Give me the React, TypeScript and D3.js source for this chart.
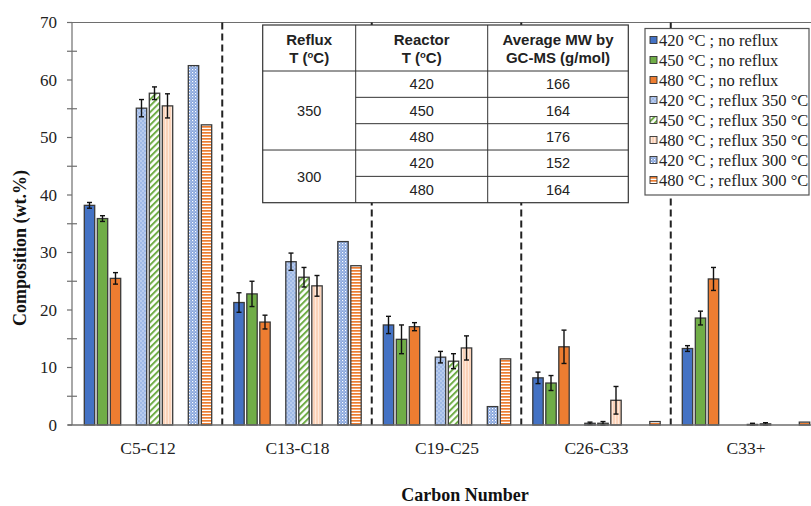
import * as d3 from "d3";
import React, { useEffect, useRef } from "react";

// ---- data ----
const categories = ["C5-C12", "C13-C18", "C19-C25", "C26-C33", "C33+"];

const seriesNames = [
  "420 °C ; no reflux",
  "450 °C ; no reflux",
  "480 °C ; no reflux",
  "420 °C ; reflux 350 °C",
  "450 °C ; reflux 350 °C",
  "480 °C ; reflux 350 °C",
  "420 °C ; reflux 300 °C",
  "480 °C ; reflux 300 °C",
];

const v420 = [38.2, 21.3, 17.4, 8.2, 13.3];
const v450 = [35.9, 22.8, 14.9, 7.3, 18.6];
const v480 = [25.5, 17.9, 17.1, 13.6, 25.4];
const v420r350 = [55.1, 28.4, 11.8, 0.3, 0.0];
const v450r350 = [57.7, 25.7, 11.1, 0.3, 0.1];
const v480r350 = [55.5, 24.2, 13.4, 4.3, 0.2];
const v420r300 = [62.5, 31.9, 3.2, 0.0, 0.0];
const v480r300 = [52.2, 27.7, 11.5, 0.6, 0.5];

const e420 = [0.5, 1.7, 1.5, 1.0, 0.5];
const e450 = [0.5, 2.2, 2.5, 1.3, 1.2];
const e480 = [1.0, 1.2, 0.7, 2.9, 2.0];
const e420r350 = [1.5, 1.5, 1.0, 0.2, 0];
const e450r350 = [1.1, 1.7, 1.3, 0.3, 0.2];
const e480r350 = [2.1, 1.8, 2.1, 2.4, 0.2];

const seriesValues = [v420, v450, v480, v420r350, v450r350, v480r350, v420r300, v480r300];
const seriesErrors = [e420, e450, e480, e420r350, e450r350, e480r350, null, null];
// Excel slot of each series (slots 3 and 7 are empty spacer series)
const seriesSlot = [0, 1, 2, 4, 5, 6, 8, 9];

const yTicks = [0, 10, 20, 30, 40, 50, 60, 70];

// inset table
const tableHeader = [["Reflux", "T (", "o", "C)"], ["Reactor", "T (", "o", "C)"], ["Average MW by", "GC-MS (g/mol)"]];
const refluxT = ["350", "300"];
const reactorT = ["420", "450", "480", "420", "480"];
const avgMW = ["166", "164", "176", "152", "164"];

const serif = "'Liberation Serif', 'Times New Roman', serif";
const sans = "'Liberation Sans', Arial, sans-serif";

const fills = [
  "#4472C4",
  "#70AD47",
  "#ED7D31",
  "url(#pLightBlue)",
  "url(#pGreenHatch)",
  "url(#pPeach)",
  "url(#pBlueDots)",
  "url(#pOrangeStripes)",
];

const App: React.FC = () => {
  const svgRef = useRef<SVGSVGElement | null>(null);

  useEffect(() => {
    if (!svgRef.current) return;
    const svg = d3.select(svgRef.current);
    svg.selectAll("*").remove();

    const width = 811;
    const height = 506;
    const plot = { left: 72, right: 811, top: 22.5, bottom: 425 };

    const x0 = d3.scaleBand<string>().domain(categories).range([73.25, 820.75]);
    const x1 = d3
      .scaleBand<number>()
      .domain(d3.range(10))
      .range([0, x0.bandwidth()])
      .paddingInner(0.2)
      .paddingOuter(0.85);
    const y = d3.scaleLinear().domain([0, 70]).range([plot.bottom, plot.top]);

    // patterns
    const defs = svg.append("defs");
    const lb = defs.append("pattern").attr("id", "pLightBlue").attr("patternUnits", "userSpaceOnUse").attr("width", 4).attr("height", 4);
    lb.append("rect").attr("width", 4).attr("height", 4).attr("fill", "#9fb9e6");
    lb.append("rect").attr("width", 2).attr("height", 2).attr("fill", "#b8cbee");
    lb.append("rect").attr("x", 2).attr("y", 2).attr("width", 2).attr("height", 2).attr("fill", "#b8cbee");

    const gh = defs.append("pattern").attr("id", "pGreenHatch").attr("patternUnits", "userSpaceOnUse").attr("width", 4.5).attr("height", 4.5).attr("patternTransform", "rotate(45)");
    gh.append("rect").attr("width", 4.5).attr("height", 4.5).attr("fill", "#ffffff");
    gh.append("rect").attr("width", 2).attr("height", 4.5).attr("fill", "#70AD47");

    const pe = defs.append("pattern").attr("id", "pPeach").attr("patternUnits", "userSpaceOnUse").attr("width", 3).attr("height", 3);
    pe.append("rect").attr("width", 3).attr("height", 3).attr("fill", "#fbd3ba");
    pe.append("rect").attr("width", 1).attr("height", 3).attr("fill", "#fde9dc");

    const bd = defs.append("pattern").attr("id", "pBlueDots").attr("patternUnits", "userSpaceOnUse").attr("width", 3).attr("height", 3);
    bd.append("rect").attr("width", 3).attr("height", 3).attr("fill", "#85a4dc");
    bd.append("rect").attr("width", 1.2).attr("height", 1.2).attr("fill", "#ffffff");
    bd.append("rect").attr("x", 1.5).attr("y", 1.5).attr("width", 1).attr("height", 1).attr("fill", "#e6edf9");

    const os = defs.append("pattern").attr("id", "pOrangeStripes").attr("patternUnits", "userSpaceOnUse").attr("width", 4).attr("height", 3);
    os.append("rect").attr("width", 4).attr("height", 3).attr("fill", "#ffffff");
    os.append("rect").attr("width", 4).attr("height", 1.7).attr("fill", "#ED7D31");

    svg.append("rect").attr("width", width).attr("height", height).attr("fill", "#ffffff");

    // top border
    svg
      .append("line")
      .attr("x1", plot.left)
      .attr("x2", plot.right)
      .attr("y1", y(70))
      .attr("y2", y(70))
      .attr("stroke", "#6e6e6e")
      .attr("stroke-width", 1.2);

    // dashed separators between carbon ranges
    svg
      .selectAll(".sep")
      .data(categories.slice(1))
      .enter()
      .append("line")
      .attr("x1", (d) => x0(d)! - 0.5)
      .attr("x2", (d) => x0(d)! - 0.5)
      .attr("y1", y(70))
      .attr("y2", plot.bottom)
      .attr("stroke", "#222")
      .attr("stroke-width", 2)
      .attr("stroke-dasharray", "7,4");

    // bars
    seriesValues.forEach((vals, s) => {
      const g = svg.append("g");
      g.selectAll("rect")
        .data(vals.map((v, i) => ({ v, c: categories[i] })).filter((d) => d.v > 0))
        .enter()
        .append("rect")
        .attr("x", (d) => x0(d.c)! + x1(seriesSlot[s])!)
        .attr("y", (d) => y(d.v))
        .attr("width", x1.bandwidth())
        .attr("height", (d) => y(0) - y(d.v))
        .attr("fill", fills[s])
        .attr("stroke", "#3a3a3a")
        .attr("stroke-width", 1.3);

      const errs = seriesErrors[s];
      if (errs) {
        const eg = svg.append("g").attr("stroke", "#111").attr("stroke-width", 1.4);
        vals.forEach((v, i) => {
          const e = errs[i];
          if (!e) return;
          const cx = x0(categories[i])! + x1(seriesSlot[s])! + x1.bandwidth() / 2;
          const yl = y(Math.max(0, v - e));
          const yh = y(v + e);
          eg.append("line").attr("x1", cx).attr("x2", cx).attr("y1", yl).attr("y2", yh);
          eg.append("line").attr("x1", cx - 2.5).attr("x2", cx + 2.5).attr("y1", yl).attr("y2", yl);
          eg.append("line").attr("x1", cx - 2.5).attr("x2", cx + 2.5).attr("y1", yh).attr("y2", yh);
        });
      }
    });

    // y axis
    const yAxis = svg.append("g").attr("stroke", "#6e6e6e").attr("stroke-width", 1.2);
    yAxis.append("line").attr("x1", plot.left).attr("x2", plot.left).attr("y1", y(70)).attr("y2", plot.bottom);
    d3.range(0, 71, 5).forEach((t) => {
      yAxis
        .append("line")
        .attr("x1", plot.left - 5)
        .attr("x2", plot.left + (t % 10 === 0 ? 0 : 5))
        .attr("y1", y(t))
        .attr("y2", y(t));
    });
    svg
      .append("g")
      .selectAll("text")
      .data(yTicks)
      .enter()
      .append("text")
      .attr("x", 57)
      .attr("y", (d) => y(d))
      .attr("dy", "0.35em")
      .attr("text-anchor", "end")
      .attr("font-family", serif)
      .attr("font-size", 17)
      .attr("fill", "#222")
      .text((d) => d);

    // x axis
    svg
      .append("line")
      .attr("x1", 68)
      .attr("x2", plot.right)
      .attr("y1", plot.bottom)
      .attr("y2", plot.bottom)
      .attr("stroke", "#6e6e6e")
      .attr("stroke-width", 1.5);
    svg
      .append("g")
      .selectAll("text")
      .data(categories)
      .enter()
      .append("text")
      .attr("x", (d) => x0(d)! + x0.bandwidth() / 2)
      .attr("y", 454)
      .attr("text-anchor", "middle")
      .attr("font-family", serif)
      .attr("font-size", 17.5)
      .attr("fill", "#222")
      .text((d) => d);

    // axis titles
    svg
      .append("text")
      .attr("x", 465)
      .attr("y", 501)
      .attr("text-anchor", "middle")
      .attr("font-family", serif)
      .attr("font-weight", "bold")
      .attr("font-size", 18)
      .attr("fill", "#111")
      .text("Carbon Number");
    svg
      .append("text")
      .attr("transform", "translate(26,248) rotate(-90)")
      .attr("text-anchor", "middle")
      .attr("font-family", serif)
      .attr("font-weight", "bold")
      .attr("font-size", 18)
      .attr("fill", "#111")
      .text("Composition (wt.%)");

    // ---- inset table ----
    const tb = { x: 262.7, x1: 355.7, x2: 487.7, xr: 628.3, top: 25, head: 71, bottom: 202.7 };
    const rowH = (tb.bottom - tb.head) / reactorT.length;
    const tg = svg.append("g");
    tg.append("rect")
      .attr("x", tb.x)
      .attr("y", tb.top)
      .attr("width", tb.xr - tb.x)
      .attr("height", tb.bottom - tb.top)
      .attr("fill", "#fff")
      .attr("stroke", "#333")
      .attr("stroke-width", 1.2);
    const tl = tg.append("g").attr("stroke", "#333").attr("stroke-width", 1);
    [tb.x1, tb.x2].forEach((cx) => tl.append("line").attr("x1", cx).attr("x2", cx).attr("y1", tb.top).attr("y2", tb.bottom));
    tl.append("line").attr("x1", tb.x).attr("x2", tb.xr).attr("y1", tb.head).attr("y2", tb.head);
    reactorT.slice(1).forEach((_, i) => {
      const ly = tb.head + rowH * (i + 1);
      tl.append("line").attr("x1", i === 2 ? tb.x : tb.x1).attr("x2", tb.xr).attr("y1", ly).attr("y2", ly);
    });

    const colCenters = [(tb.x + tb.x1) / 2, (tb.x1 + tb.x2) / 2, (tb.x2 + tb.xr) / 2];
    tableHeader.forEach((h, i) => {
      tg.append("text")
        .attr("x", colCenters[i])
        .attr("y", 45)
        .attr("text-anchor", "middle")
        .attr("font-family", sans)
        .attr("font-weight", "bold")
        .attr("font-size", 15)
        .attr("fill", "#222")
        .text(h[0]);
      const t2 = tg
        .append("text")
        .attr("x", colCenters[i])
        .attr("y", 63)
        .attr("text-anchor", "middle")
        .attr("font-family", sans)
        .attr("font-weight", "bold")
        .attr("font-size", 15)
        .attr("fill", "#222");
      if (h.length === 4) {
        t2.append("tspan").text(h[1]);
        t2.append("tspan").attr("font-size", 9.5).attr("dy", -5).text(h[2]);
        t2.append("tspan").attr("dy", 5).text(h[3]);
      } else {
        t2.text(h[1]);
      }
    });

    const cellText = (x: number, yy: number, s: string) =>
      tg
        .append("text")
        .attr("x", x)
        .attr("y", yy)
        .attr("dy", "0.36em")
        .attr("text-anchor", "middle")
        .attr("font-family", sans)
        .attr("font-size", 14.5)
        .attr("fill", "#222")
        .text(s);
    cellText(colCenters[0], tb.head + rowH * 1.5, refluxT[0]);
    cellText(colCenters[0], tb.head + rowH * 4, refluxT[1]);
    reactorT.forEach((r, i) => {
      cellText(colCenters[1], tb.head + rowH * (i + 0.5), r);
      cellText(colCenters[2], tb.head + rowH * (i + 0.5), avgMW[i]);
    });

    // ---- legend ----
    const lg = svg.append("g");
    lg.append("rect")
      .attr("x", 645)
      .attr("y", 28.5)
      .attr("width", 164)
      .attr("height", 166.5)
      .attr("fill", "#fff")
      .attr("stroke", "#555")
      .attr("stroke-width", 1.2);
    seriesNames.forEach((name, i) => {
      const cy = 40 + 20 * i;
      lg.append("rect")
        .attr("x", 650)
        .attr("y", cy - 3.5)
        .attr("width", 7)
        .attr("height", 7)
        .attr("fill", fills[i])
        .attr("stroke", "#333")
        .attr("stroke-width", 0.9);
      lg.append("text")
        .attr("x", 659)
        .attr("y", cy + 5.5)
        .attr("font-family", serif)
        .attr("font-size", 16.5)
        .attr("fill", "#222")
        .text(name);
    });
  }, []);

  return (
    <div>
      <style>{`body{margin:0}`}</style>
      <svg ref={svgRef} width={811} height={506} style={{ display: "block" }}></svg>
    </div>
  );
};

export default App;
